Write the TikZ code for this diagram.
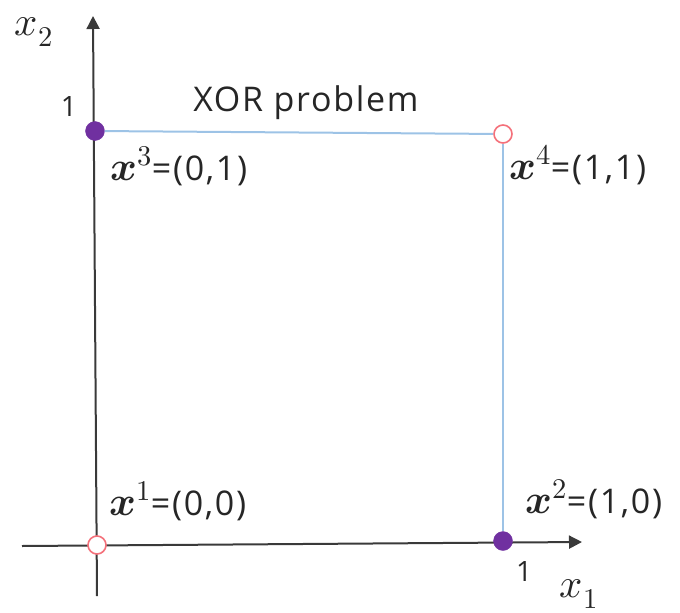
\documentclass[tikz,border=0pt]{standalone}
\usepackage{fontspec}
\usepackage{unicode-math}
\setmainfont{Open Sans}[LetterSpace=5]
\setmathfont{Latin Modern Math}[Scale=1.2]
\usetikzlibrary{arrows.meta}
\definecolor{axisgray}{HTML}{3A3A3A}
\definecolor{linkblue}{HTML}{9DC3E6}
\definecolor{ptpurple}{HTML}{7030A0}
\definecolor{ptred}{HTML}{F4707A}
\begin{document}
\begin{tikzpicture}[x=1pt,y=-1pt,
  axis/.style={draw=axisgray,line width=2pt,-{Triangle[length=13pt,width=13pt]}},
  link/.style={draw=linkblue,line width=2pt},
  filledpt/.style={circle,fill=ptpurple,draw=ptpurple,inner sep=0pt,minimum size=19pt},
  openpt/.style={circle,fill=white,draw=ptred,line width=1.6pt,inner sep=0pt,minimum size=18pt},
  lbl/.style={anchor=west,inner sep=0pt,font=\fontsize{34}{38}\selectfont,text=black!85},
  tick/.style={inner sep=0pt,font=\fontsize{28}{30}\selectfont,text=black!85},
  axlbl/.style={inner sep=0pt,font=\fontsize{34}{38}\selectfont,text=black!85}]
\useasboundingbox (0,0) rectangle (680,613);
% axes
\coordinate (yb) at (97,596);
\coordinate (yt) at (93,16);
\coordinate (xl) at (22,546);
\coordinate (xr) at (582,542);
\draw[axis] (yb) -- (yt);
\draw[axis] (xl) -- (xr);
% points
\node[openpt] (p1) at (97,545) {};
\node[filledpt] (p2) at (503,541) {};
\node[filledpt] (p3) at (95,131) {};
\node[openpt] (p4) at (503,134) {};
% links
\draw[link] (p3) -- (p4);
\draw[link] (p4) -- (p2);
% labels
\node[lbl] (l3) at (110,166) {$\symbfit{x}^{3}$=(0,1)};
\node[lbl] (l4) at (509,165) {$\symbfit{x}^{4}$=(1,1)};
\node[lbl] (l1) at (109,501) {$\symbfit{x}^{1}$=(0,0)};
\node[lbl] (l2) at (525,499) {$\symbfit{x}^{2}$=(1,0)};
\node[lbl,anchor=center] (title) at (306,103) {XOR problem};
\node[tick] (t1y) at (69,107) {1};
\node[tick] (t1x) at (524,571) {1};
\node[axlbl] (xlab2) at (34,32) {$x_2$};
\node[axlbl] (xlab1) at (579,594) {$x_1$};
\end{tikzpicture}
\end{document}
